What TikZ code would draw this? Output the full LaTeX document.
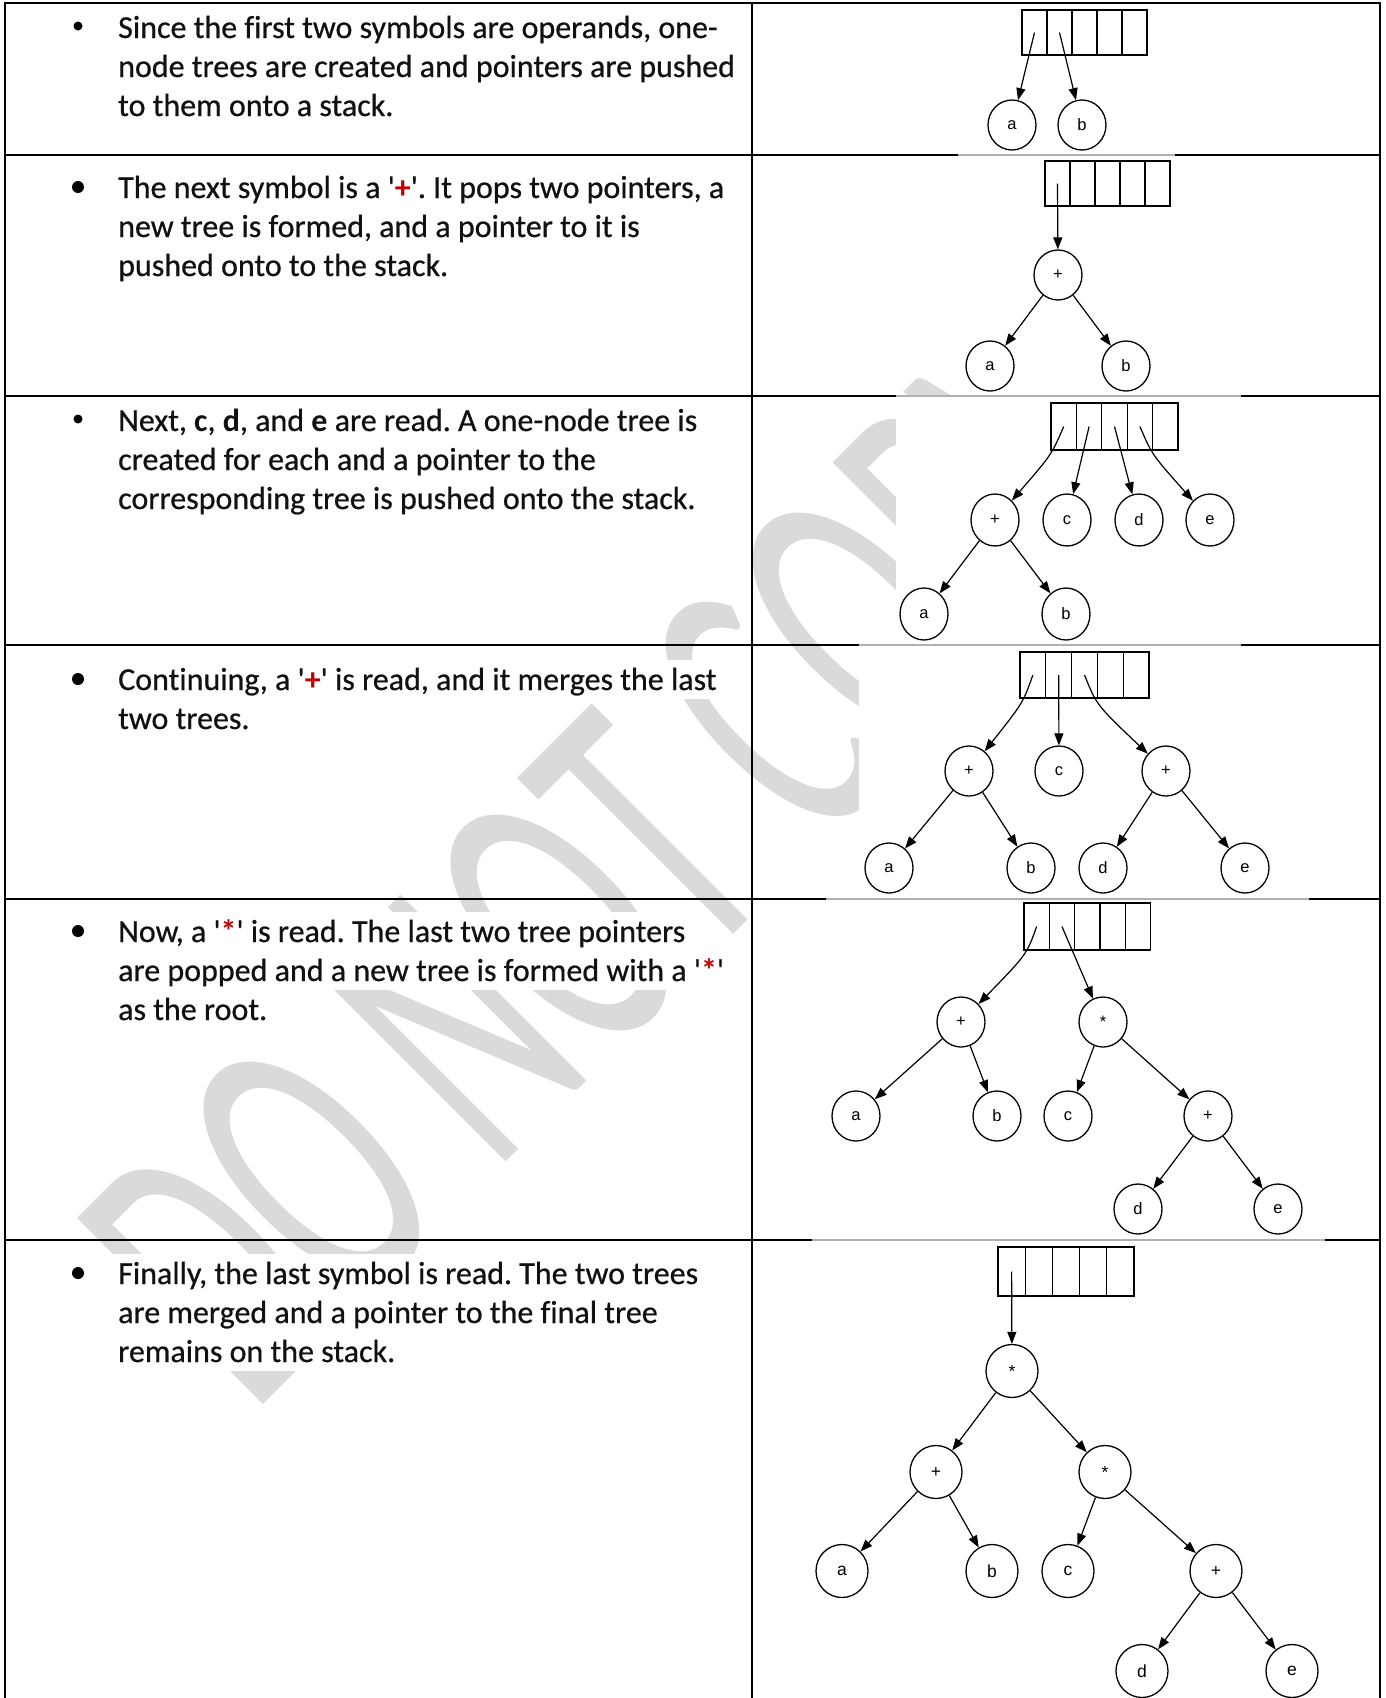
\documentclass[tikz,border=0pt]{standalone}
\usepackage{fontspec}
\usepackage{graphicx}
\usetikzlibrary{arrows.meta,shapes.geometric}
\newfontfamily\bodyfont{Carlito}[Ligatures=NoCommon, UprightFeatures={FakeBold=0.6}]
\newfontfamily\nodefont{Liberation Sans}
\newfontfamily\markfont{Carlito}
\definecolor{qred}{HTML}{C00000}
\definecolor{tcol}{HTML}{111111}
\definecolor{wm}{HTML}{DADADA}
\definecolor{gline}{HTML}{B0B0B0}
\newcommand\sq{\textquotesingle}
\newcommand\rd[1]{{\color{qred}\bfseries #1}}
% five-cell stack: name, left x, top y, cell width, cell height
\newcommand\stackbox[5]{%
  \foreach \i in {1,...,5}{%
    \node[cellbox, minimum width=#4pt, minimum height=#5pt] (#1c\i) at ({#2+(\i-0.5)*#4},{#3+#5/2}) {};
  }}
\tikzset{
  tn/.style={ellipse, draw, line width=1.3pt, minimum width=48pt, minimum height=50pt,
    inner sep=0pt, font=\nodefont\fontsize{16.5}{16.5}\selectfont},
  tnbig/.style={tn, minimum width=52pt, minimum height=53pt, font=\nodefont\fontsize{17.5}{17.5}\selectfont},
  cellbox/.style={rectangle, draw, line width=1.3pt, inner sep=0pt},
  arr/.style={line width=1.2pt, -{Triangle[length=12pt,width=9pt]}},
  txt/.style={anchor=base west, inner sep=0pt, fill=white, text height=30pt, text depth=9pt,
    font=\bodyfont\fontsize{32}{39}\selectfont, text=tcol},
  bul/.style={circle, fill=black, inner sep=0pt, minimum size=#1},
  rule/.style={line width=2.7pt, black},
  faint/.style={line width=1.1pt, gline},
}
\begin{document}
\frenchspacing
\begin{tikzpicture}[x=1pt,y=-1pt]
\useasboundingbox (0,0) rectangle (1385,1698);
\fill[white] (0,0) rectangle (1385,1698);

% watermark lettering behind everything
\begin{scope}
  \clip (0,0) rectangle (1385,1698);
  \node[rotate=45, anchor=base west, inner sep=0pt, text=wm,
        font=\markfont\fontsize{410}{410}\selectfont] (wmark) at (252,1416)
        {\scalebox{0.556}[1]{DO NOT COPY}};
\end{scope}

% opaque backgrounds of the tree pictures
\fill[white] (984,3) rectangle (1152,155);
\fill[white] (958,155) rectangle (1176,396);
\fill[white] (896,396) rectangle (1241,645);
\fill[white] (859,645) rectangle (1241,899);
\fill[white] (826,899) rectangle (1309,1240);
\fill[white] (812,1240) rectangle (1325,1698);

% text column
\fill[white] (60,8) rectangle (118,125);
\node[bul=9pt] (u1) at (78,26) {};
\node[txt] (t11) at (118,38) {Since the first two symbols are operands, one-};
\node[txt] (t12) at (118,77) {node trees are created and pointers are pushed};
\node[txt] (t13) at (118,116) {to them onto a stack.};

\fill[white] (60,168) rectangle (118,285);
\node[bul=12pt] (u2) at (78,187) {};
\node[txt] (t21) at (118,198) {The next symbol is a \sq\rd{+}\sq. It pops two pointers, a};
\node[txt] (t22) at (118,237) {new tree is formed, and a pointer to it is};
\node[txt] (t23) at (118,276) {pushed onto to the stack.};

\fill[white] (60,401) rectangle (118,518);
\node[bul=9pt] (u3) at (78,419) {};
\node[txt] (t31) at (118,431) {Next, \textbf{c}, \textbf{d}, and \textbf{e} are read. A one-node tree is};
\node[txt] (t32) at (118,470) {created for each and a pointer to the};
\node[txt] (t33) at (118,509) {corresponding tree is pushed onto the stack.};

\fill[white] (60,660) rectangle (118,738);
\node[bul=12pt] (u4) at (78,679) {};
\node[txt] (t41) at (118,690) {Continuing, a \sq\rd{+}\sq\ is read, and it merges the last};
\node[txt] (t42) at (118,729) {two trees.};

\fill[white] (60,912) rectangle (118,1029);
\node[bul=12pt] (u5) at (78,931) {};
\node[txt] (t51) at (118,942) {Now, a \sq\rd{*}\sq\ is read. The last two tree pointers};
\node[txt] (t52) at (118,981) {are popped and a new tree is formed with a \sq\rd{*}\sq};
\node[txt] (t53) at (118,1020) {as the root.};

\fill[white] (60,1254) rectangle (118,1371);
\node[bul=12pt] (u6) at (78,1273) {};
\node[txt] (t61) at (118,1284) {Finally, the last symbol is read. The two trees};
\node[txt] (t62) at (118,1323) {are merged and a pointer to the final tree};
\node[txt] (t63) at (118,1362) {remains on the stack.};

% table rules
\draw[rule] (5,3) -- (1380,3);
\draw[rule] (5,1.65) -- (5,1698);
\draw[rule] (752,1.65) -- (752,1698);
\draw[rule] (1380,1.65) -- (1380,1698);
\draw[rule] (5,155) -- (958,155);  \draw[rule] (1175,155) -- (1380,155);
\draw[faint] (958,155) -- (1175,155);
\draw[rule] (5,396) -- (896,396);  \draw[rule] (1241,396) -- (1380,396);
\draw[faint] (896,396) -- (1241,396);
\draw[rule] (5,645) -- (859,645);  \draw[rule] (1241,645) -- (1380,645);
\draw[faint] (859,645) -- (1241,645);
\draw[rule] (5,899) -- (826,899);  \draw[rule] (1309,899) -- (1380,899);
\draw[faint] (826,899) -- (1309,899);
\draw[rule] (5,1240) -- (812,1240); \draw[rule] (1325,1240) -- (1380,1240);
\draw[faint] (812,1240) -- (1325,1240);

% step 1: two one-node trees
\stackbox{s1}{1022}{10}{25}{45}
\node[tn] (a1) at (1012,125) {a};
\node[tn] (b1) at (1082,125) {b};
\draw[arr] (s1c1.center) -- (a1);
\draw[arr] (s1c2.center) -- (b1);

% step 2: a + b
\stackbox{s2}{1045}{161}{25}{45}
\node[tn] (p2) at (1058,275) {+};
\node[tn] (a2) at (990,366) {a};
\node[tn] (b2) at (1126,366) {b};
\draw[arr] (s2c1.center) -- (p2);
\draw[arr] (p2) -- (a2);
\draw[arr] (p2) -- (b2);

% step 3: c, d, e pushed
\stackbox{s3}{1051}{403}{25.4}{47}
\node[tn, minimum height=52pt] (p3) at (995,520) {+};
\node[tn, minimum height=52pt] (c3) at (1067,520) {c};
\node[tn, minimum height=52pt] (d3) at (1139,520) {d};
\node[tn, minimum height=52pt] (e3) at (1210,520) {e};
\node[tn, minimum height=52pt] (a3) at (924,614) {a};
\node[tn, minimum height=52pt] (b3) at (1066,614) {b};
\draw[arr] (s3c1.center) .. controls +(-12,28) .. (p3);
\draw[arr] (s3c2.center) -- (c3);
\draw[arr] (s3c3.center) -- (d3);
\draw[arr] (s3c4.center) .. controls +(12,28) .. (e3);
\draw[arr] (p3) -- (a3);
\draw[arr] (p3) -- (b3);

% step 4: d + e
\stackbox{s4}{1020}{652}{25.8}{46}
\node[tn] (p4a) at (969,771) {+};
\node[tn] (c4) at (1059,771) {c};
\node[tn] (p4b) at (1166,771) {+};
\node[tn] (a4) at (889,868) {a};
\node[tn] (b4) at (1031,868) {b};
\node[tn] (d4) at (1103,868) {d};
\node[tn] (e4) at (1245,868) {e};
\draw[arr] (s4c1.center) .. controls +(-10,28) .. (p4a);
\draw[arr] (s4c2.center) -- (c4);
\draw[arr] (s4c3.center) .. controls +(12,30) .. (p4b);
\draw[arr] (p4a) -- (a4);
\draw[arr] (p4a) -- (b4);
\draw[arr] (p4b) -- (d4);
\draw[arr] (p4b) -- (e4);

% step 5: c * (d + e)
\stackbox{s5}{1024}{903}{25.3}{47}
\node[tn] (p5) at (961,1022) {+};
\node[tn] (m5) at (1103,1022) {*};
\node[tn] (a5) at (856,1116) {a};
\node[tn] (b5) at (997,1116) {b};
\node[tn] (c5) at (1068,1116) {c};
\node[tn] (q5) at (1208,1116) {+};
\node[tn] (d5) at (1138,1209) {d};
\node[tn] (e5) at (1278,1209) {e};
\draw[arr] (s5c1.center) .. controls +(-10,28) .. (p5);
\draw[arr] (s5c2.center) -- (m5);
\draw[arr] (p5) -- (a5);
\draw[arr] (p5) -- (b5);
\draw[arr] (m5) -- (c5);
\draw[arr] (m5) -- (q5);
\draw[arr] (q5) -- (d5);
\draw[arr] (q5) -- (e5);

% step 6: final tree
\stackbox{s6}{998}{1247}{27.2}{49}
\node[tnbig] (r6) at (1012,1371) {*};
\node[tnbig] (p6) at (936,1472) {+};
\node[tnbig] (m6) at (1105,1472) {*};
\node[tnbig] (a6) at (842,1571) {a};
\node[tnbig] (b6) at (992,1571) {b};
\node[tnbig] (c6) at (1068,1571) {c};
\node[tnbig] (q6) at (1216,1571) {+};
\node[tnbig] (d6) at (1142,1671) {d};
\node[tnbig] (e6) at (1292,1671) {e};
\draw[arr] (s6c1.center) -- (r6);
\draw[arr] (r6) -- (p6);
\draw[arr] (r6) -- (m6);
\draw[arr] (p6) -- (a6);
\draw[arr] (p6) -- (b6);
\draw[arr] (m6) -- (c6);
\draw[arr] (m6) -- (q6);
\draw[arr] (q6) -- (d6);
\draw[arr] (q6) -- (e6);
\end{tikzpicture}
\end{document}
